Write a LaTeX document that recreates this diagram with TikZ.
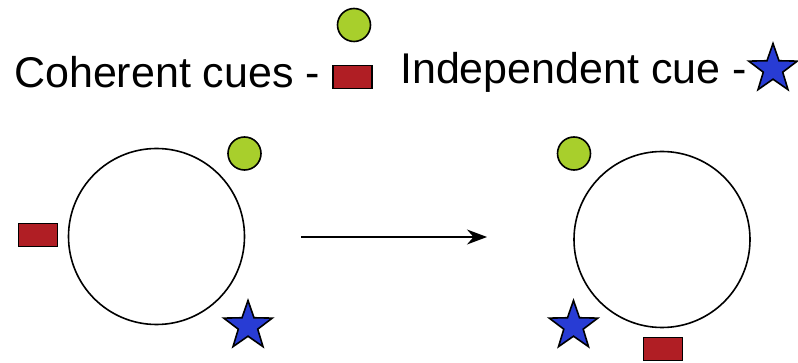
\documentclass[tikz,border=0pt]{standalone}
\usepackage{fontspec}
\setmainfont{Liberation Sans}
\usetikzlibrary{shapes.geometric,arrows.meta}
\definecolor{cuegreen}{RGB}{168,207,44}
\definecolor{cuered}{RGB}{176,30,36}
\definecolor{cueblue}{RGB}{40,60,212}
\tikzset{
  ring/.style={circle,draw=black,line width=1.6pt,minimum size=176pt,inner sep=0pt},
  dotcue/.style={circle,draw=black,fill=cuegreen,line width=1.6pt,minimum size=33pt,inner sep=0pt},
  boxcue/.style={rectangle,draw=black,fill=cuered,line width=1.6pt,minimum width=39pt,minimum height=23pt,inner sep=0pt},
  starcue/.style={star,star points=5,star point ratio=2.5,draw=black,fill=cueblue,line width=1.6pt,minimum size=51pt,inner sep=0pt},
  label/.style={font=\fontsize{43}{50}\selectfont,inner sep=0pt,anchor=base west},
}
\begin{document}
\begin{tikzpicture}[x=1pt,y=-1pt]
\useasboundingbox (0,0) rectangle (798,363);
% legend
\node[label] (coh) at (14,88) {Coherent cues -};
\node[dotcue] (legdot) at (354,25) {};
\node[boxcue] (legbox) at (352.5,77) {};
\node[label] (ind) at (400,84) {Independent cue -};
\node[starcue] (legstar) at (773,69) {};
% before
\node[ring] (ringA) at (156.5,236.5) {};
\node[dotcue] (dotA) at (244.5,153.5) {};
\node[boxcue] (boxA) at (38,235) {};
\node[starcue] (starA) at (248,326) {};
% after
\node[ring] (ringB) at (662,239.5) {};
\node[dotcue] (dotB) at (574,153.5) {};
\node[starcue] (starB) at (573.5,326) {};
\node[boxcue] (boxB) at (663,349) {};
% transition arrow
\coordinate (arrS) at (301,237);
\coordinate (arrE) at (487,237);
\draw[line width=1.4pt,-{Stealth[length=20pt,width=15pt]}] (arrS) -- (arrE);
\end{tikzpicture}
\end{document}
